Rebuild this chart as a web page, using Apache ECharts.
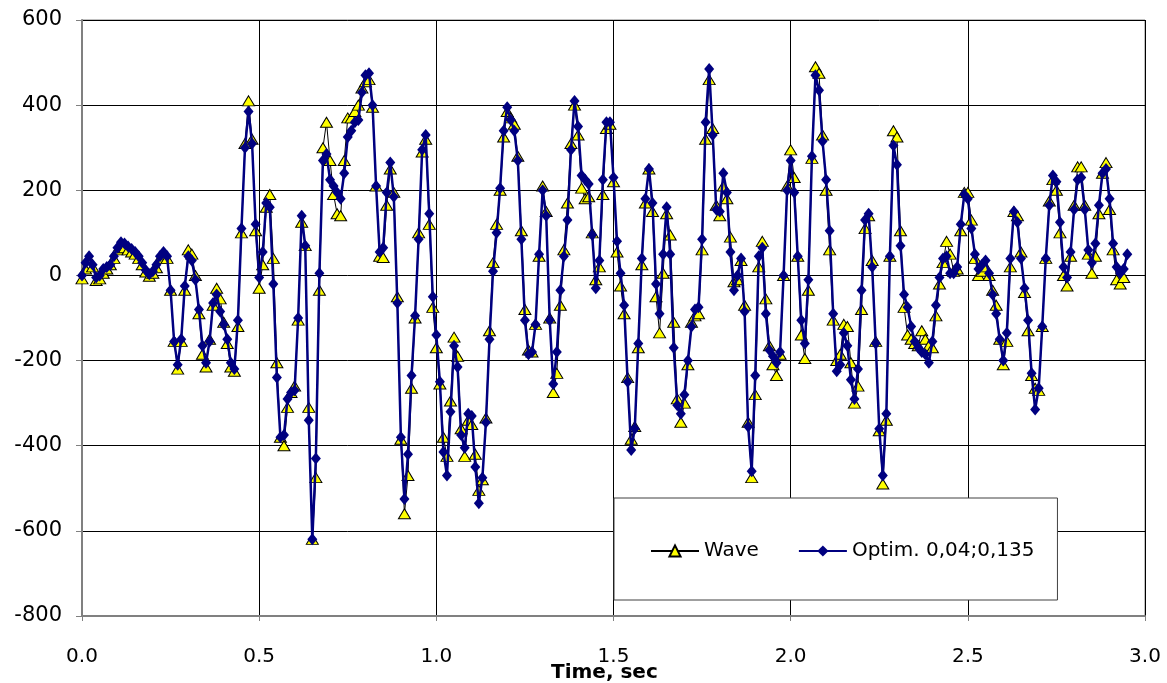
<!DOCTYPE html>
<html>
<head>
<meta charset="utf-8">
<script src="https://cdn.jsdelivr.net/npm/echarts@6/dist/echarts.min.js"></script>
<style>
html,body{margin:0;padding:0;background:#fff;}
#chart{width:1167px;height:683px;}
</style>
</head>
<body>
<div id="chart"></div>
<script>
// sample interval (sec)
const timeStep = 0.01;
const xTicks = ['0.0','0.5','1.0','1.5','2.0','2.5','3.0'];
const yTicks = [-800,-600,-400,-200,0,200,400,600];
const xTitle = 'Time, sec';
const seriesNames = ['Wave', 'Optim. 0,04;0,135'];

const waveValues = [
-8,15,38,20,-12,-8,5,15,25,40,60,70,65,60,55,50,40,25,8,-2,
5,18,40,50,40,-35,-155,-220,-155,-35,60,50,0,-90,-185,-215,-150,-70,-30,-55,
-110,-160,-215,-225,-120,100,310,410,320,105,-30,25,160,190,40,-205,-380,-400,-310,-275,
-260,-105,125,70,-310,-620,-475,-35,300,360,270,190,145,140,270,370,370,385,400,440,
455,460,395,210,45,42,165,250,195,-50,-385,-560,-470,-265,-100,100,290,320,120,-75,
-170,-255,-380,-425,-295,-145,-190,-360,-425,-340,-350,-420,-505,-480,-335,-130,30,120,200,325,
385,370,355,280,105,-80,-175,-180,-115,45,210,150,-100,-275,-230,-70,60,170,310,400,
330,205,180,185,100,-10,20,190,345,355,220,55,-25,-90,-240,-385,-355,-170,25,170,
250,150,-50,-135,5,145,95,-110,-290,-345,-300,-210,-110,-95,-90,60,320,460,345,165,
140,210,180,90,-15,-10,35,-70,-345,-475,-280,20,80,-55,-165,-210,-235,-185,0,210,
295,230,45,-140,-195,-35,275,490,475,330,200,60,-105,-200,-185,-115,-120,-205,-300,-260,
-80,110,140,35,-155,-365,-490,-340,45,340,325,105,-75,-140,-150,-160,-165,-130,-150,-165,
-170,-95,-20,30,80,50,10,15,105,195,195,130,40,0,10,20,0,-35,-70,-150,
-210,-155,20,150,140,55,-40,-130,-235,-265,-270,-120,40,175,225,200,100,0,-25,45,
165,255,255,165,50,5,45,145,240,265,155,60,-10,-20,-5
];

const optimValues = [
0,30,45,25,-5,0,15,20,25,45,65,78,75,68,62,55,45,30,12,3,
10,25,45,55,45,-35,-155,-210,-150,-25,45,35,-10,-80,-165,-205,-155,-65,-45,-85,
-115,-150,-205,-220,-105,110,300,385,310,120,-5,55,170,160,-20,-240,-380,-375,-290,-275,
-270,-100,140,70,-340,-620,-430,5,270,285,225,210,195,180,240,325,340,360,365,430,
470,475,400,210,55,65,195,265,185,-65,-380,-525,-420,-235,-95,85,295,330,145,-50,
-140,-250,-415,-470,-320,-165,-215,-375,-405,-325,-330,-450,-535,-475,-345,-150,10,100,205,340,
395,365,340,270,85,-105,-185,-180,-115,50,200,140,-105,-255,-180,-35,45,130,295,410,
350,235,225,215,95,-30,35,225,360,360,230,80,5,-70,-250,-410,-360,-160,40,180,
250,170,-20,-90,50,160,50,-170,-305,-325,-280,-200,-120,-80,-75,85,360,485,330,155,
150,240,195,55,-35,0,40,-85,-355,-460,-235,45,65,-90,-175,-190,-205,-180,0,200,
270,195,45,-105,-160,-10,280,470,435,315,225,105,-90,-225,-210,-135,-165,-245,-290,-220,
-35,130,145,20,-160,-360,-470,-325,45,305,260,70,-45,-75,-120,-155,-170,-180,-185,-205,
-155,-70,-5,40,45,5,5,20,120,190,180,110,50,15,25,35,5,-45,-90,-150,
-200,-135,40,150,125,40,-30,-105,-230,-315,-265,-120,40,165,235,220,125,20,-5,55,
155,225,230,155,60,30,75,165,240,250,180,75,20,5,15,50
];

function toPoints(vals){
  return vals.map((v,i)=>[Number((i*timeStep).toFixed(2)), v]);
}

const chart = echarts.init(document.getElementById('chart'), null, {renderer:'canvas'});
const labelFont = "'DejaVu Sans', Verdana, sans-serif";
chart.setOption({
  animation:false,
  backgroundColor:'#ffffff',
  grid:{left:82, top:20, width:1063, height:596, containLabel:false, outerBoundsMode:'none',
        show:true, borderColor:'#808080', borderWidth:1, backgroundColor:'transparent'},
  xAxis:{
    type:'value', min:0, max:3, interval:0.5,
    axisLine:{show:true, onZero:false, lineStyle:{color:'#808080', width:2}},
    axisTick:{show:true, length:5, inside:false, lineStyle:{color:'#808080'}},
    axisLabel:{fontFamily:labelFont, fontSize:20, color:'#000', margin:31,
      formatter:(v)=>xTicks[Math.round(v/0.5)]},
    splitLine:{show:true, lineStyle:{color:'#000', width:1}}
  },
  yAxis:{
    type:'value', min:-800, max:600, interval:200,
    axisLine:{show:true, onZero:false, lineStyle:{color:'#808080', width:2}},
    axisTick:{show:true, length:6, lineStyle:{color:'#808080'}},
    axisLabel:{fontFamily:labelFont, fontSize:21, color:'#000', margin:20,
      formatter:(v)=>String(yTicks[yTicks.indexOf(v)])},
    splitLine:{show:true, lineStyle:{color:'#000', width:1}}
  },
  graphic:[{
    type:'text', left:551, top:663, z:10,
    style:{text:xTitle, font:"bold 20px 'DejaVu Sans', sans-serif", fill:'#000'}
  }],
  legend:{
    left:614, top:498, orient:'horizontal',
    padding:[43, 23, 39, 36],
    itemGap:39, itemWidth:48, itemHeight:14,
    backgroundColor:'#ffffff', borderColor:'#404040', borderWidth:1,
    textStyle:{fontFamily:labelFont, fontSize:20, color:'#000'},
    data:seriesNames
  },
  series:[
    {
      name:seriesNames[0], type:'line', data:toPoints(waveValues),
      symbol:'triangle', symbolSize:[12,10], showAllSymbol:true,
      lineStyle:{color:'#000000', width:1},
      itemStyle:{color:'#FFFF00', borderColor:'#000000', borderWidth:1},
      z:2
    },
    {
      name:seriesNames[1], type:'line', data:toPoints(optimValues),
      symbol:'diamond', symbolSize:[10,12], showAllSymbol:true,
      lineStyle:{color:'#000080', width:2.5},
      itemStyle:{color:'#000080', borderWidth:0},
      z:3
    }
  ]
});
</script>
</body>
</html>
